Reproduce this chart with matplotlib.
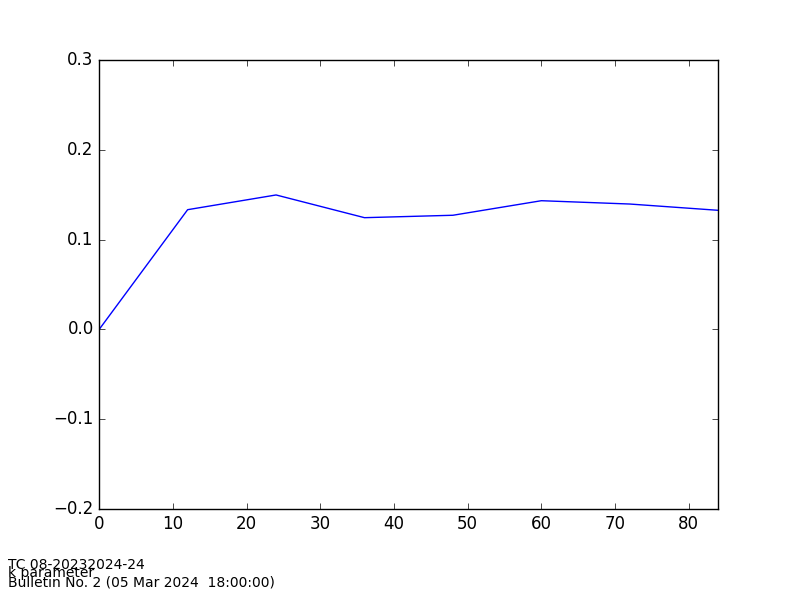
import matplotlib
matplotlib.use('Agg')
import matplotlib.pyplot as plt

plt.style.use('classic')

# horas de pronostico y valor del parametro k
horas = [0, 12, 24, 36, 48, 60, 72, 84]
kpar = [0.0, 0.1333, 0.1497, 0.1244, 0.1271, 0.1433, 0.1396, 0.1326]

lineas = ['TC 08-20232024-24', 'k parameter', 'Bulletin No. 2 (05 Mar 2024  18:00:00)']

fig = plt.figure(figsize=(8, 6), dpi=100, facecolor='white')
ax = fig.add_axes([0.124, 0.1517, 0.7738, 0.7483])
ax.plot(horas, kpar, color='b', lw=1)
ax.set_xlim(0, 84)
ax.set_ylim(-0.2, 0.3)
ax.set_xticks([0, 10, 20, 30, 40, 50, 60, 70, 80])
ax.set_yticks([-0.2, -0.1, 0.0, 0.1, 0.2, 0.3])

# pie de figura, tres lineas
ys = [569, 577.5, 586.5]
for t, yp in zip(lineas, ys):
    fig.text(8/800., 1 - yp/600., t, fontsize=10, va='baseline', ha='left')

fig.savefig('out.png', dpi=100, facecolor='white')
